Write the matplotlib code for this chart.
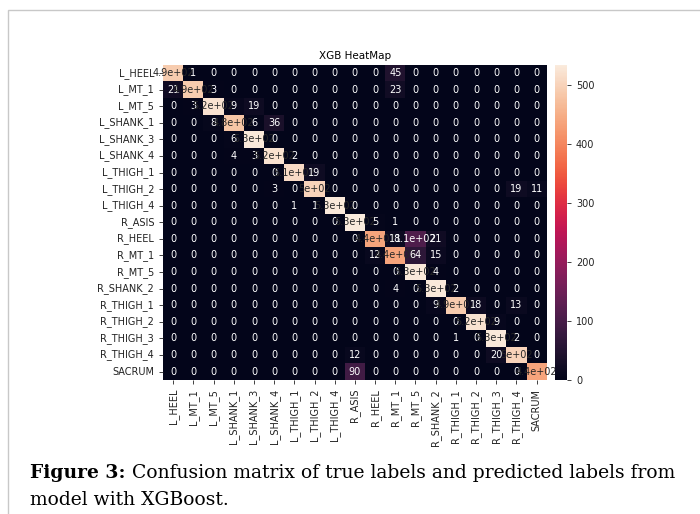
import matplotlib
matplotlib.use("Agg")
import matplotlib.pyplot as plt
import numpy as np
import seaborn as sns
from matplotlib.patches import Rectangle

labels = ['L_HEEL', 'L_MT_1', 'L_MT_5', 'L_SHANK_1', 'L_SHANK_3', 'L_SHANK_4',
          'L_THIGH_1', 'L_THIGH_2', 'L_THIGH_4', 'R_ASIS', 'R_HEEL', 'R_MT_1',
          'R_MT_5', 'R_SHANK_2', 'R_THIGH_1', 'R_THIGH_2', 'R_THIGH_3',
          'R_THIGH_4', 'SACRUM']

# diagonal (correct predictions)
diag = [490, 490, 520, 480, 530, 520, 510, 500, 530, 534,
        436, 436, 530, 530, 490, 520, 530, 500, 436]

# off-diagonal counts: (true row, predicted col, count)
off_diag = [
    (0, 1, 1), (0, 11, 45),
    (1, 0, 21), (1, 2, 3), (1, 11, 23),
    (2, 1, 3), (2, 3, 9), (2, 4, 19),
    (3, 2, 8), (3, 4, 6), (3, 5, 36),
    (4, 3, 6),
    (5, 3, 4), (5, 4, 3), (5, 6, 2),
    (6, 7, 19),
    (7, 5, 3), (7, 17, 19), (7, 18, 11),
    (8, 6, 1), (8, 7, 1),
    (9, 10, 5), (9, 11, 1),
    (10, 11, 18), (10, 12, 110), (10, 13, 21),
    (11, 10, 12), (11, 12, 64), (11, 13, 15),
    (12, 13, 4),
    (13, 11, 4), (13, 14, 2),
    (14, 13, 9), (14, 15, 18), (14, 17, 13),
    (15, 16, 9),
    (16, 14, 1), (16, 17, 2),
    (17, 9, 12), (17, 16, 20),
    (18, 9, 90),
]

n = len(labels)
cm = np.zeros((n, n), dtype=int)
for i in range(n):
    cm[i, i] = diag[i]
for r, c, v in off_diag:
    cm[r, c] = v

fig = plt.figure(figsize=(7.0, 5.14), dpi=100)

# thin frame around the figure panel
fig.patches.append(Rectangle((8 / 700, -0.1), 1.0, 1 - 10 / 514 + 0.1,
                             transform=fig.transFigure, fill=False,
                             edgecolor='#c8c8c8', linewidth=1.0))

ax = fig.add_axes([0.233, 0.261, 0.548, 0.613])
cax = fig.add_axes([0.793, 0.261, 0.017, 0.613])

sns.heatmap(cm, annot=True, ax=ax, cbar_ax=cax,
            xticklabels=labels, yticklabels=labels,
            annot_kws={'size': 7})
ax.set_title('XGB HeatMap', fontsize=7.5, pad=4)
ax.tick_params(labelsize=7, length=3, width=0.6, colors='#222222')
plt.setp(ax.get_xticklabels(), rotation=90)
plt.setp(ax.get_yticklabels(), rotation=0)
cax.tick_params(labelsize=7, length=3, width=0.6, colors='#222222')
cax.set_yticks([0, 100, 200, 300, 400, 500])

cap_font = 'DejaVu Serif'
t1 = fig.text(30 / 700, 1 - 478 / 514, 'Figure 3:', fontsize=13.5,
              fontweight='bold', family=cap_font, va='baseline')
fig.canvas.draw()
bb = t1.get_window_extent(fig.canvas.get_renderer())
fig.text(bb.x1 / 700 + 6 / 700, 1 - 478 / 514,
         'Confusion matrix of true labels and predicted labels from',
         fontsize=13.5, family=cap_font, va='baseline')
fig.text(30 / 700, 1 - 505 / 514, 'model with XGBoost.', fontsize=13.5,
         family=cap_font, va='baseline')

plt.savefig('out.png', dpi=100)
